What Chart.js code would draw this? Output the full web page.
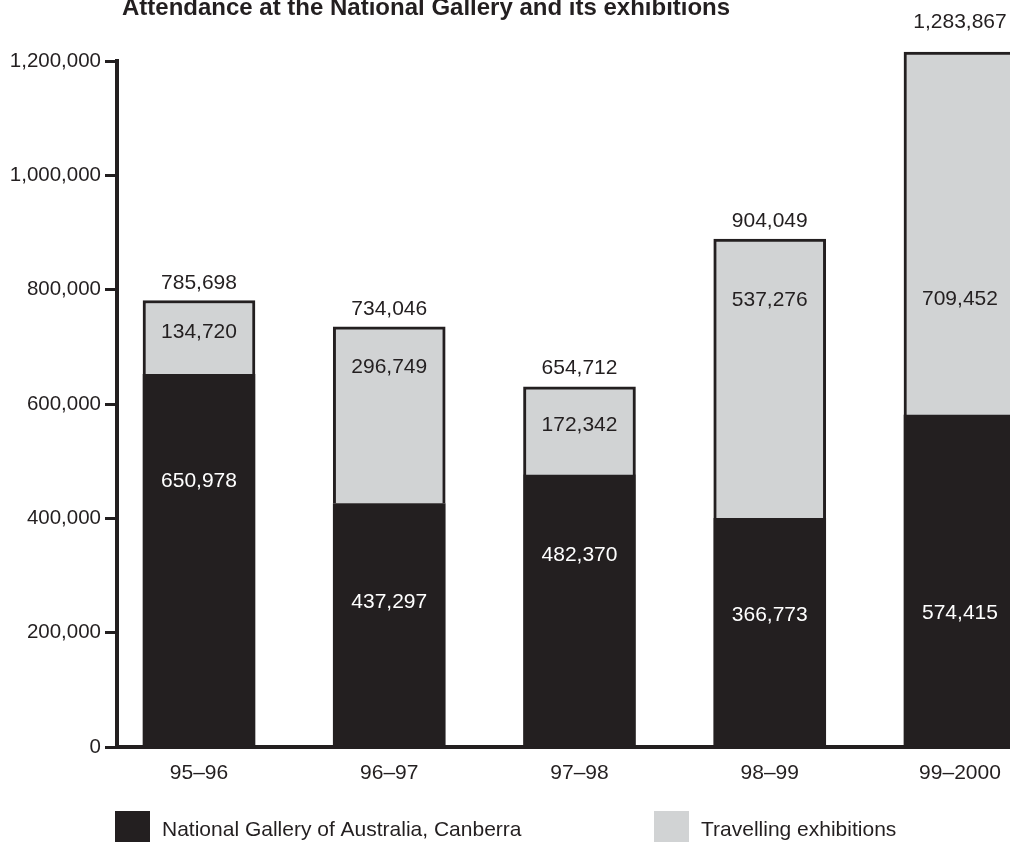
<!DOCTYPE html>
<html>
<head>
<meta charset="utf-8">
<script src="https://cdn.jsdelivr.net/npm/chart.js@4.4.1/dist/chart.umd.min.js"></script>
<style>
  html, body { margin: 0; padding: 0; background: #fff; overflow: hidden; }
  #wrap { position: relative; width: 1010px; height: 842px; }
</style>
</head>
<body>
<div id="wrap"><canvas id="attendanceChart" width="1010" height="842"></canvas></div>
<script>
// values (bar heights as drawn)
const seasons = ["95–96", "96–97", "97–98", "98–99", "99–2000"];
const galleryBars = [652000, 426000, 475500, 400000, 580500];
const travellingBars = [129000, 309000, 154500, 488500, 635000];

// printed figures
const galleryText = ["650,978", "437,297", "482,370", "366,773", "574,415"];
const travellingText = ["134,720", "296,749", "172,342", "537,276", "709,452"];
const totalText = ["785,698", "734,046", "654,712", "904,049", "1,283,867"];

// where the printed figures sit, in axis units
const galleryTextAt = [465000, 253000, 336000, 230000, 234000];
const travellingTextAt = [726000, 664000, 563000, 782000, 784000];
const totalTextAt = [812000, 765000, 662000, 920000, 1267000];

const yTicks = [0, 200000, 400000, 600000, 800000, 1000000, 1200000];

const ink = "#231f20";
const grey = "#d1d3d4";
const fontFamily = '"Liberation Sans", Arial, Helvetica, sans-serif';

const labelsPlugin = {
  id: "barLabels",
  afterDatasetsDraw(chart) {
    const { ctx, scales } = chart;
    const metaDark = chart.getDatasetMeta(0);
    const metaLight = chart.getDatasetMeta(1);
    ctx.save();
    ctx.font = `21px ${fontFamily}`;
    ctx.textAlign = "center";
    ctx.textBaseline = "middle";
    seasons.forEach((s, i) => {
      const x = metaDark.data[i].x;
      ctx.fillStyle = "#ffffff";
      ctx.fillText(galleryText[i], x, scales.y.getPixelForValue(galleryTextAt[i]));
      ctx.fillStyle = ink;
      ctx.fillText(travellingText[i], metaLight.data[i].x, scales.y.getPixelForValue(travellingTextAt[i]));
      ctx.fillText(totalText[i], x, scales.y.getPixelForValue(totalTextAt[i]));
    });
    ctx.restore();
  }
};

const titleLegendPlugin = {
  id: "titleLegend",
  afterDraw(chart) {
    const { ctx } = chart;
    ctx.save();
    ctx.fillStyle = ink;
    ctx.font = `bold 24px ${fontFamily}`;
    ctx.textAlign = "left";
    ctx.textBaseline = "alphabetic";
    ctx.fillText("Attendance at the National Gallery and its exhibitions", 122, 15);

    // legend
    const items = [
      { x: 115, ds: chart.data.datasets[0] },
      { x: 654, ds: chart.data.datasets[1] }
    ];
    ctx.font = `21px ${fontFamily}`;
    ctx.textBaseline = "middle";
    items.forEach(({ x, ds }) => {
      ctx.fillStyle = ds.backgroundColor;
      ctx.fillRect(x, 811, 35, 40);
      ctx.fillStyle = ink;
      ctx.fillText(ds.label, x + 47, 830);
    });
    ctx.restore();
  }
};

new Chart(document.getElementById("attendanceChart"), {
  type: "bar",
  data: {
    datasets: [
      {
        label: "National Gallery of Australia, Canberra",
        data: galleryBars.map((v, i) => ({ x: i, y: v })),
        backgroundColor: ink,
        borderWidth: 0,
        barThickness: 112,
        clip: false
      },
      {
        label: "Travelling exhibitions",
        data: travellingBars.map((v, i) => ({ x: i, y: v })),
        backgroundColor: grey,
        borderColor: ink,
        borderWidth: { top: 3, left: 3, right: 3, bottom: 0 },
        borderSkipped: "bottom",
        barThickness: 112,
        clip: false
      }
    ]
  },
  options: {
    responsive: false,
    animation: false,
    devicePixelRatio: 1,
    layout: { padding: { top: 61, left: 0, right: 0, bottom: 0 } },
    plugins: {
      legend: { display: false },
      tooltip: { enabled: false },
      title: { display: false }
    },
    scales: {
      x: {
        type: "linear",
        stacked: true,
        min: -0.431,
        max: 4.263,
        offset: false,
        afterBuildTicks: (axis) => {
          axis.ticks = seasons.map((s, i) => ({ value: i }));
        },
        afterFit: (axis) => {
          axis.height = 95;
          axis.paddingLeft = 0;
          axis.paddingRight = 0;
        },
        grid: { display: false, drawTicks: false },
        border: { display: true, color: ink, width: 4 },
        ticks: {
          callback: (value) => seasons[value] ?? "",
          color: ink,
          font: { family: fontFamily, size: 21 },
          padding: 14,
          maxRotation: 0,
          autoSkip: false
        }
      },
      y: {
        stacked: true,
        min: 0,
        max: 1200000,
        afterBuildTicks: (axis) => {
          axis.ticks = yTicks.map((v) => ({ value: v }));
        },
        afterFit: (axis) => { axis.width = 117; },
        grid: {
          drawOnChartArea: false,
          drawTicks: true,
          tickLength: 12,
          tickWidth: 3,
          tickColor: ink
        },
        border: { display: true, color: ink, width: 4 },
        ticks: {
          callback: (value) => value.toLocaleString("en-US"),
          color: ink,
          font: { family: fontFamily, size: 20.5 },
          padding: 4
        }
      }
    }
  },
  plugins: [labelsPlugin, titleLegendPlugin]
});
</script>
</body>
</html>
